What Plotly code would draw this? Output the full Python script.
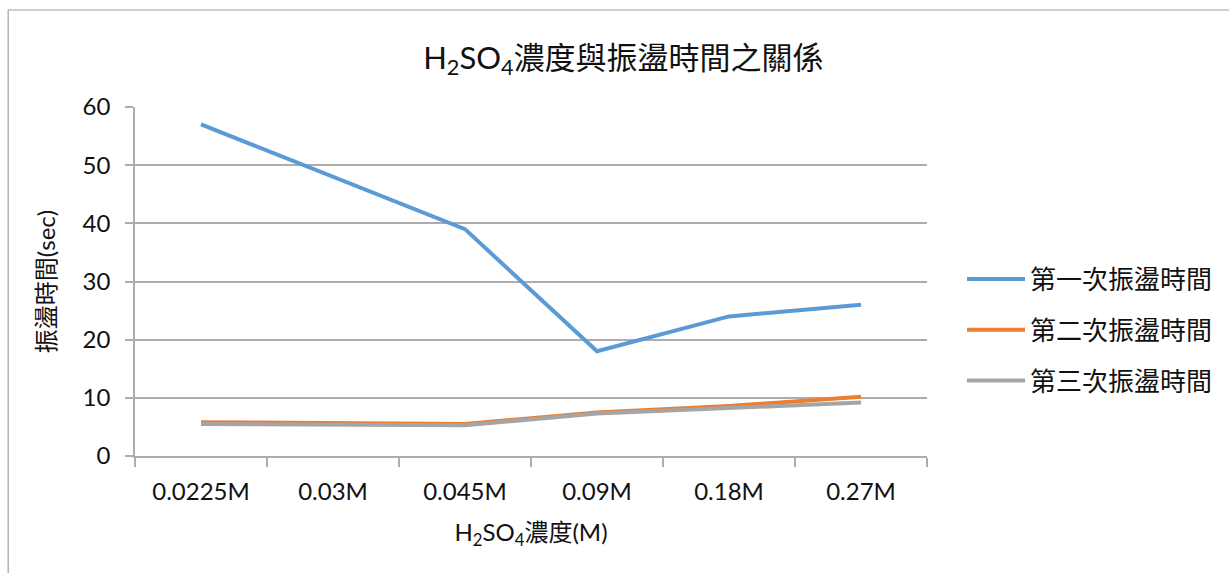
import plotly.graph_objects as go

# Concentration categories (x axis)
concentrations = ["0.0225M", "0.03M", "0.045M", "0.09M", "0.18M", "0.27M"]

# Oscillation times (sec) for the three runs
run1 = [57, 48, 39, 18, 24, 26]
run2 = [5.8, 5.7, 5.5, 7.5, 8.6, 10.2]
run3 = [5.5, 5.4, 5.3, 7.3, 8.2, 9.2]

series_names = ["第一次振盪時間", "第二次振盪時間", "第三次振盪時間"]
series_colors = ["#5B9BD5", "#ED7D31", "#A5A5A5"]

FONT = "Lato, 'Noto Sans CJK TC', sans-serif"
GRID = "#ADADAD"
TXT = "#111111"

W, H = 1229, 573
L, R, T, B = 135, W - 928, 107, H - 456
plot_w = W - L - R
plot_h = H - T - B


def px_x(p):
    return (p - L) / plot_w


def px_y(p):
    return (H - B - p) / plot_h


fig = go.Figure()
for i, (name, vals, color) in enumerate(zip(series_names, [run1, run2, run3], series_colors)):
    fig.add_trace(go.Scatter(
        x=concentrations, y=vals, name=name, mode="lines",
        line=dict(color=color, width=4),
        legendgroup=f"g{i}",
    ))

# Outer chart frame
fig.add_shape(type="rect", xref="paper", yref="paper",
              x0=px_x(8), x1=px_x(W + 20), y0=px_y(H + 20), y1=px_y(10),
              line=dict(color="#A0A0A0", width=1.2), fillcolor="rgba(0,0,0,0)",
              layer="below")

fig.update_layout(
    width=W, height=H,
    margin=dict(l=L, r=R, t=T, b=B),
    paper_bgcolor="white", plot_bgcolor="white",
    font=dict(family=FONT, color=TXT, size=23),
    title=dict(text="H<sub>2</sub>SO<sub>4</sub>濃度與振盪時間之關係",
               x=px_x(624), xref="paper", xanchor="center",
               y=1 - 58 / H, yanchor="middle",
               font=dict(size=31, family=FONT, color=TXT)),
    showlegend=True,
    legend=dict(x=px_x(962), xanchor="left", y=px_y(330), yanchor="middle",
                font=dict(size=26, family=FONT, color=TXT),
                tracegroupgap=14, itemwidth=58,
                bgcolor="rgba(0,0,0,0)"),
    xaxis=dict(
        type="category", range=[-0.5, 5.5],
        showgrid=False, showline=True, linecolor=GRID, linewidth=1.5,
        ticks="outside", tickson="boundaries", ticklen=9, tickcolor=GRID,
        tickwidth=1.5, ticklabelstandoff=13,
        tickfont=dict(size=24, family=FONT, color=TXT),
        title=dict(text="H<sub>2</sub>SO<sub>4</sub>濃度(M)",
                   font=dict(size=24, family=FONT, color=TXT),
                   standoff=21),
    ),
    yaxis=dict(
        range=[0, 60], dtick=10, tick0=0,
        showgrid=True, gridcolor=GRID, gridwidth=1.5,
        showline=True, linecolor=GRID, linewidth=1.5,
        ticks="outside", ticklen=8, tickcolor=GRID, tickwidth=1.5,
        ticklabelstandoff=10,
        zeroline=False,
        tickfont=dict(size=24, family=FONT, color=TXT),
        title=dict(text="振盪時間(sec)",
                   font=dict(size=24, family=FONT, color=TXT),
                   standoff=20),
    ),
)

fig.write_html("out.html")
